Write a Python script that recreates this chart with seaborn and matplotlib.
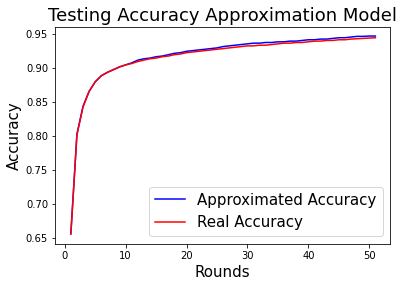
import matplotlib
matplotlib.use("Agg")
import matplotlib.pyplot as plt
import seaborn as sns
import pandas as pd

rounds = list(range(1, 52))
approx_acc = [0.656, 0.803, 0.844, 0.866, 0.880, 0.889, 0.894, 0.898, 0.902, 0.905,
              0.908, 0.912, 0.914, 0.915, 0.917, 0.918, 0.920, 0.922, 0.923, 0.925,
              0.926, 0.927, 0.928, 0.929, 0.930, 0.932, 0.933, 0.934, 0.935, 0.936,
              0.937, 0.937, 0.938, 0.938, 0.939, 0.939, 0.940, 0.940, 0.941, 0.942,
              0.942, 0.943, 0.943, 0.944, 0.945, 0.945, 0.946, 0.947, 0.947, 0.9475, 0.9475]
real_acc = [0.656, 0.802, 0.843, 0.866, 0.880, 0.889, 0.894, 0.898, 0.902, 0.905,
            0.907, 0.910, 0.912, 0.914, 0.915, 0.917, 0.918, 0.920, 0.921, 0.923,
            0.924, 0.925, 0.926, 0.927, 0.928, 0.929, 0.930, 0.931, 0.932, 0.933,
            0.933, 0.934, 0.934, 0.935, 0.936, 0.937, 0.937, 0.938, 0.938, 0.939,
            0.940, 0.940, 0.941, 0.941, 0.942, 0.942, 0.943, 0.9435, 0.944, 0.9445, 0.945]

df = pd.DataFrame({
    "Rounds": rounds * 2,
    "Accuracy": approx_acc + real_acc,
    "Series": ["Approximated Accuracy"] * len(rounds) + ["Real Accuracy"] * len(rounds),
})

fig = plt.figure(figsize=(404 / 72, 287 / 72), dpi=72)
ax = fig.add_axes([55 / 404, 1 - 243.7 / 287, (390 - 55) / 404, (243.7 - 27) / 287])
sns.lineplot(data=df, x="Rounds", y="Accuracy", hue="Series",
             palette={"Approximated Accuracy": "blue", "Real Accuracy": "red"},
             ax=ax, linewidth=1.5)
ax.set_title("Testing Accuracy Approximation Model", fontsize=18)
ax.set_xlabel("Rounds", fontsize=15)
ax.set_ylabel("Accuracy", fontsize=15)
ax.set_xticks([0, 10, 20, 30, 40, 50])
ax.set_yticks([0.65, 0.70, 0.75, 0.80, 0.85, 0.90, 0.95])
ax.set_xlim(-1.6, 53.4)
ax.set_ylim(0.6416, 0.9608)
ax.tick_params(labelsize=10)
ax.legend(fontsize=15, loc="lower right")
fig.savefig("out.png", dpi=72)
